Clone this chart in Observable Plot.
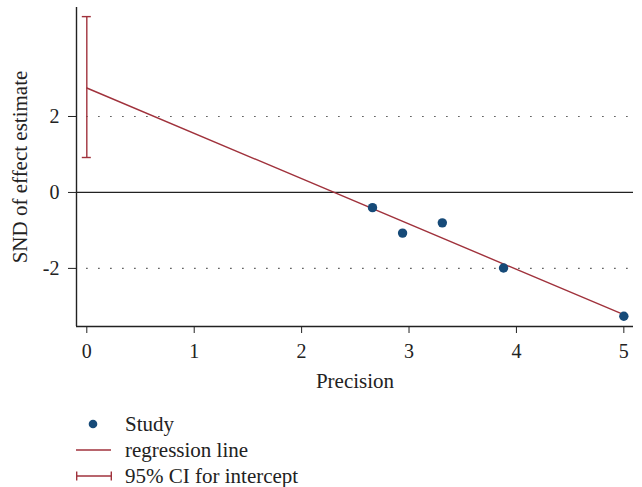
<!DOCTYPE html>
<html>
<head>
<meta charset="utf-8">
<script src="https://cdn.jsdelivr.net/npm/d3@7"></script>
<script src="https://cdn.jsdelivr.net/npm/@observablehq/plot@0.6"></script>
<style>
  html, body { margin: 0; padding: 0; background: #fff; }
  body { width: 642px; height: 487px; overflow: hidden; font-family: "Liberation Serif", "DejaVu Serif", serif; color: #222; }
  #chart svg, #chart svg text { font-family: "Liberation Serif", "DejaVu Serif", serif !important; }
  #legend { margin-top: 11px; margin-left: 76px; font-size: 21px; }
  .row { display: flex; align-items: center; height: 26px; line-height: 26px; }
  .row svg { width: 40px; height: 26px; flex: none; margin-right: 9px; }
</style>
</head>
<body>
<div id="chart"></div>
<div id="legend"></div>
<script>
// Study points (precision, standardized normal deviate)
const precision = [2.66, 2.94, 3.31, 3.88, 5.00];
const snd = [-0.40, -1.07, -0.80, -1.99, -3.26];
// Regression line endpoints
const regX = [0, 5];
const regY = [2.75, -3.22];
// 95% CI for intercept
const ciLow = 0.92;
const ciHigh = 4.63;
// Axis ticks
const xTicks = [0, 1, 2, 3, 4, 5];
const yTicks = [-2, 0, 2];
const refLines = [-2, 2];

const serif = '"Liberation Serif", "DejaVu Serif", serif';
const dotColor = "#164a78";
const lineColor = "#a0323c";
const xDomain = [-0.096, 5.09];
const yDomain = [-3.53, 4.87];

const studies = precision.map((p, i) => ({x: p, y: snd[i]}));
const reg = regX.map((x, i) => ({x, y: regY[i]}));
const capHalf = 0.042;

const chart = Plot.plot({
  width: 642,
  height: 400,
  marginLeft: 76,
  marginRight: 9,
  marginTop: 7,
  marginBottom: 74,
  style: {fontFamily: serif, fontSize: "20px", color: "#222", background: "#fff"},
  x: {domain: xDomain},
  y: {domain: yDomain},
  marks: [
    Plot.ruleY(refLines, {x1: 0, x2: xDomain[1], stroke: "#222", strokeDasharray: "1.2,10.8", strokeWidth: 1.2}),
    Plot.ruleY([0], {stroke: "#222", strokeWidth: 1.2}),
    Plot.line(reg, {x: "x", y: "y", stroke: lineColor, strokeWidth: 1.4}),
    Plot.ruleX([0], {y1: ciLow, y2: ciHigh, stroke: lineColor, strokeWidth: 1.4}),
    Plot.ruleY([ciLow, ciHigh], {x1: -capHalf, x2: capHalf, stroke: lineColor, strokeWidth: 1.4}),
    Plot.dot(studies, {x: "x", y: "y", r: 4.7, fill: dotColor, stroke: "none"}),
    Plot.axisX({ticks: xTicks, tickSize: 7, tickPadding: 10, tickFormat: d => String(d), label: null, stroke: "#222", fontFamily: serif, fontSize: 20}),
    Plot.axisY({ticks: yTicks, tickSize: 8, tickPadding: 9, tickFormat: d => String(d), label: null, stroke: "#222", fontFamily: serif, fontSize: 20}),
    Plot.ruleX([xDomain[0]], {stroke: "#222", strokeWidth: 1.4}),
    Plot.ruleY([yDomain[0]], {stroke: "#222", strokeWidth: 1.4}),
    Plot.text(["Precision"], {frameAnchor: "bottom", dy: 55, text: d => d, lineAnchor: "middle", textAnchor: "middle", fill: "#222", fontFamily: serif, fontSize: 21}),
    Plot.text(["SND of effect estimate"], {frameAnchor: "left", dx: -56, rotate: -90, text: d => d, lineAnchor: "middle", textAnchor: "middle", fill: "#222", fontFamily: serif, fontSize: 21})
  ]
});
document.getElementById("chart").appendChild(chart);

// Legend
const legendItems = [
  {label: "Study", kind: "dot"},
  {label: "regression line", kind: "line"},
  {label: "95% CI for intercept", kind: "ci"}
];
const leg = d3.select("#legend");
legendItems.forEach(item => {
  const row = leg.append("div").attr("class", "row");
  const s = row.append("svg").attr("viewBox", "0 0 40 26");
  if (item.kind === "dot") {
    s.append("circle").attr("cx", 17).attr("cy", 13).attr("r", 4.3).attr("fill", dotColor);
  } else if (item.kind === "line") {
    s.append("line").attr("x1", 0).attr("x2", 35).attr("y1", 13).attr("y2", 13).attr("stroke", lineColor).attr("stroke-width", 1.4);
  } else {
    s.append("line").attr("x1", 0.7).attr("x2", 35.3).attr("y1", 13).attr("y2", 13).attr("stroke", lineColor).attr("stroke-width", 1.4);
    s.append("line").attr("x1", 0.7).attr("x2", 0.7).attr("y1", 8.5).attr("y2", 17.5).attr("stroke", lineColor).attr("stroke-width", 1.4);
    s.append("line").attr("x1", 35.3).attr("x2", 35.3).attr("y1", 8.5).attr("y2", 17.5).attr("stroke", lineColor).attr("stroke-width", 1.4);
  }
  row.append("span").text(item.label);
});
</script>
</body>
</html>
